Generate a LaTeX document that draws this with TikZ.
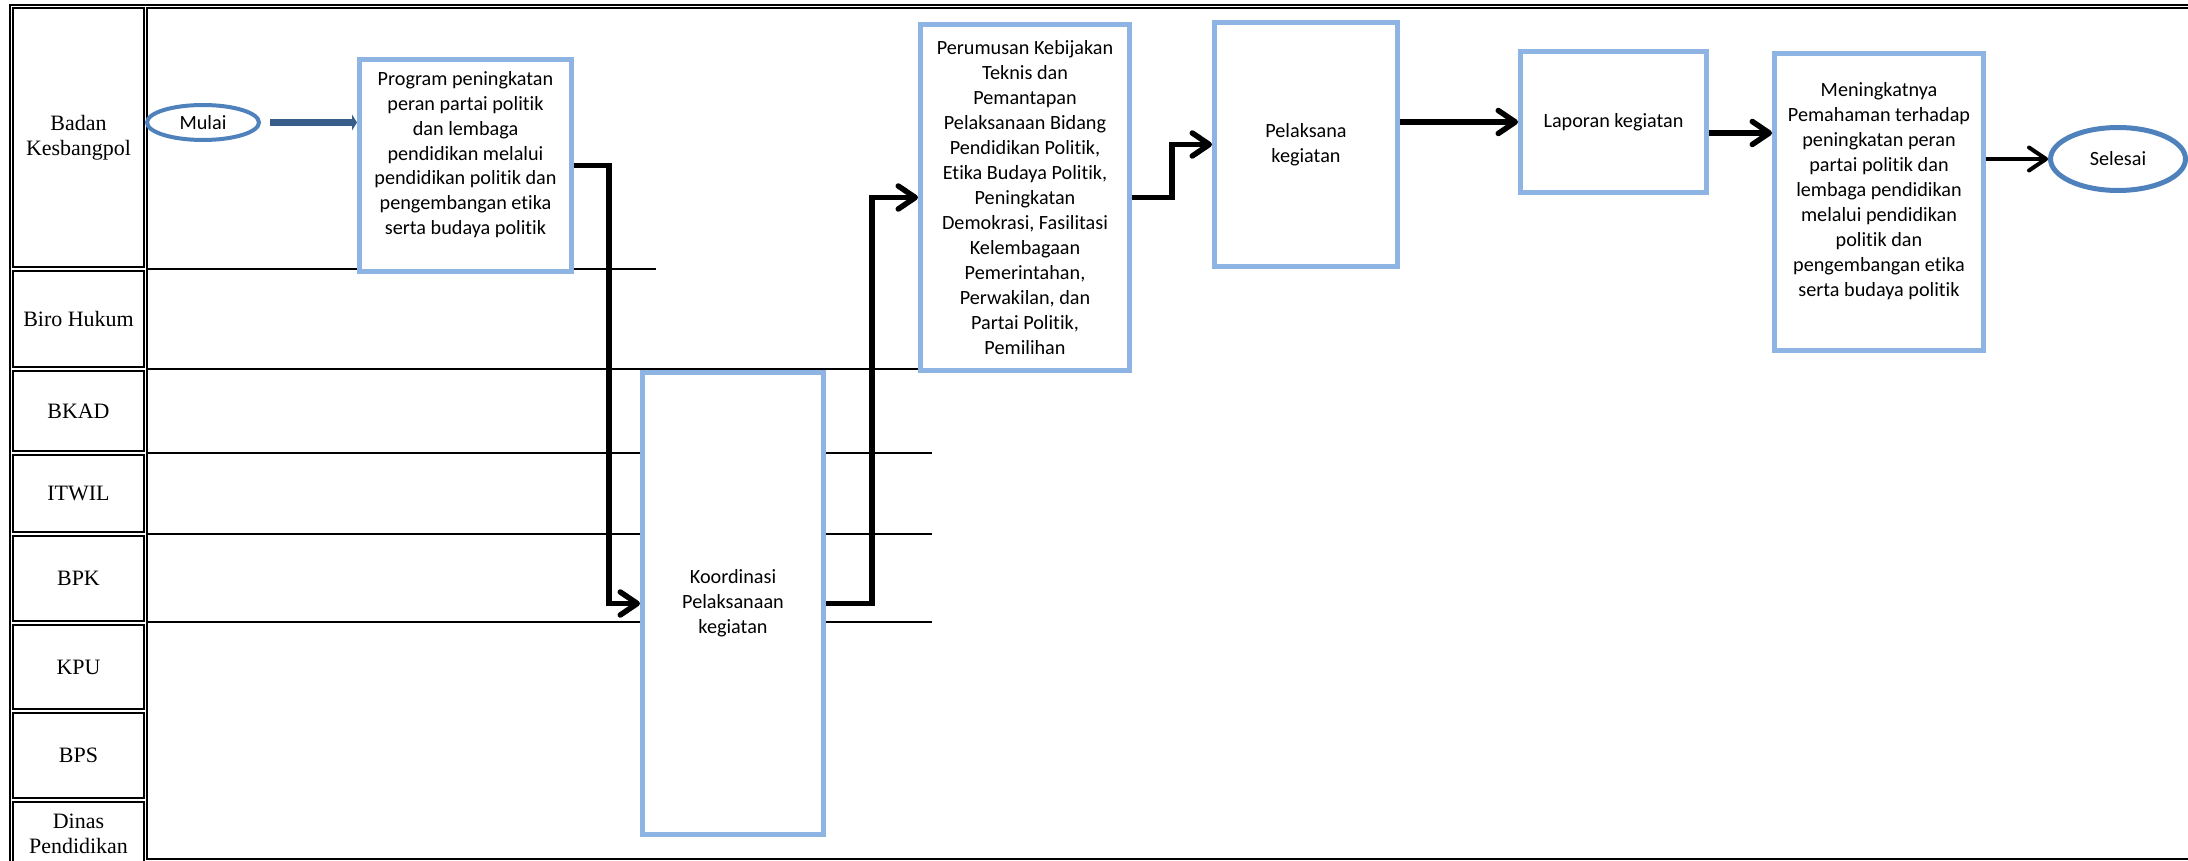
\documentclass[tikz,border=0pt]{standalone}
\usepackage{fontspec}
\setmainfont{Liberation Serif}
\newfontfamily\calibri[Ligatures=NoCommon]{Carlito}
\usetikzlibrary{arrows.meta,shapes.geometric}
\definecolor{boxblue}{RGB}{141,180,226}
\definecolor{ovalblue}{RGB}{79,129,189}
\definecolor{arrowblue}{RGB}{56,93,138}

\begin{document}
\begin{tikzpicture}[x=0.02cm,y=-0.02cm,
            frameline/.style={line width=0.04cm},
            laneline/.style={line width=0.7pt},
            lanecell/.style={draw, line width=0.04cm, minimum width=2.62cm, inner sep=0pt, align=center, font=\fontsize{12.5}{14.2}\selectfont},
            procbox/.style={draw=boxblue, line width=0.1cm, fill=white, inner sep=0pt, align=center, font=\calibri\fontsize{11.5}{14.2}\selectfont},
            oval/.style={ellipse, draw=ovalblue, fill=white, inner sep=0pt, font=\calibri\fontsize{11.5}{14.2}\selectfont},
            flow/.style={line width=0.11cm, -{Straight Barb[length=0.34cm,width=0.46cm,round]}}]
            \useasboundingbox (0,0) rectangle (2188,861);
            \clip (0,0) rectangle (2188,861);
            \draw[frameline] (10,870) -- (10,5) -- (2200,5);
            \draw[frameline] (2200,8) -- (147,8) -- (147,859) -- (2200,859);
            \node[lanecell, minimum height=5.18cm] (kesbang) at (78.5,137.5) {Badan\\Kesbangpol};
            \node[lanecell, minimum height=1.92cm] (biro) at (78.5,319) {Biro Hukum};
            \node[lanecell, minimum height=1.6cm] (bkad) at (78.5,411) {BKAD};
            \node[lanecell, minimum height=1.54cm] (itwil) at (78.5,493.5) {ITWIL};
            \node[lanecell, minimum height=1.7cm] (bpk) at (78.5,578.5) {BPK};
            \node[lanecell, minimum height=1.68cm] (kpu) at (78.5,667) {KPU};
            \node[lanecell, minimum height=1.7cm] (bps) at (78.5,755.5) {BPS};
            \node[lanecell, minimum height=1.28cm] (dinas) at (78.5,834) {Dinas\\Pendidikan};
            \draw[laneline] (147,269) -- (656,269);
            \draw[laneline] (147,369) -- (932,369);
            \draw[laneline] (147,453) -- (932,453);
            \draw[laneline] (147,534) -- (932,534);
            \draw[laneline] (147,622) -- (932,622);
            \node[oval, line width=0.08cm, minimum width=2.24cm, minimum height=0.7cm] (mulai) at (203,122.5) {Mulai};
            \node[procbox, minimum width=4.24cm, minimum height=4.24cm] (prog) at (465.5,165.5) {Program peningkatan\\peran partai politik\\dan lembaga\\pendidikan melalui\\pendidikan politik dan\\pengembangan etika\\serta budaya politik\\\mbox{}};
            \node[procbox, minimum width=3.62cm, minimum height=9.24cm] (koord) at (733,603.5) {Koordinasi\\Pelaksanaan\\kegiatan};
            \node[procbox, minimum width=4.18cm, minimum height=6.92cm] (perum) at (1025,197.5) {Perumusan Kebijakan\\Teknis dan\\Pemantapan\\Pelaksanaan Bidang\\Pendidikan Politik,\\Etika Budaya Politik,\\Peningkatan\\Demokrasi, Fasilitasi\\Kelembagaan\\Pemerintahan,\\Perwakilan, dan\\Partai Politik,\\Pemilihan};
            \node[procbox, minimum width=3.66cm, minimum height=4.88cm] (pelak) at (1306,144.5) {Pelaksana\\kegiatan};
            \node[procbox, minimum width=3.72cm, minimum height=2.82cm] (lapor) at (1613.5,122) {Laporan kegiatan};
            \node[procbox, minimum width=4.18cm, minimum height=5.94cm] (mening) at (1879,202) {Meningkatnya\\Pemahaman terhadap\\peningkatan peran\\partai politik dan\\lembaga pendidikan\\melalui pendidikan\\politik dan\\pengembangan etika\\serta budaya politik\\\mbox{}};
            \node[oval, line width=0.1cm, minimum width=2.7cm, minimum height=1.26cm] (selesai) at (2118,159) {Selesai};
            \draw[line width=0.15cm, arrowblue, shorten <=0.18cm, -{Triangle[length=0.1cm,width=0.32cm,line width=0pt]}] (mulai.east) -- (mulai.east -| prog.west);
            \draw[flow] (prog.east) -- ++(35,0) |- (koord.west);
            \draw[flow] (koord.east) -- ++(46,0) |- (perum.west);
            \draw[flow] (perum.east) -- ++(40,0) |- (pelak.west);
            \draw[flow] (lapor.west -| pelak.east) -- (lapor.west);
            \coordinate (lapout) at ([yshift=-0.22cm]lapor.east);
            \draw[flow] (lapout) -- (lapout -| mening.west);
            \draw[flow, line width=0.08cm] (selesai.west -| mening.east) -- (selesai.west);
        \end{tikzpicture}
\end{document}
